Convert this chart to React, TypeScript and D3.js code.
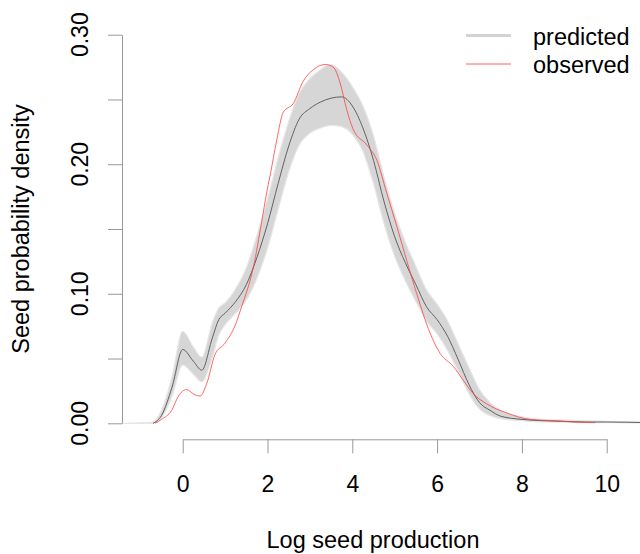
import React, { useEffect, useRef } from 'react'
import * as d3 from 'd3'

// log seed production grid for the predicted curves
const predX = [-1.4, -0.7, -0.5, -0.25, 0, 0.25, 0.45, 0.7, 0.85, 1.0, 1.25, 1.5, 1.75, 2.0, 2.25, 2.5, 2.75, 3.0, 3.25, 3.5, 3.75, 4.0, 4.25, 4.5, 4.75, 5.0, 5.25, 5.5, 5.75, 6.0, 6.25, 6.5, 6.75, 7.0, 7.25, 7.5, 8.0, 8.5, 9.0, 9.5, 10.0, 10.5, 11.0]
// mean of the predicted densities (dark line), starts at -0.7
const meanX = predX.slice(1)
const predMean = [0, 0.006, 0.028, 0.057, 0.048, 0.041, 0.066, 0.080, 0.085, 0.094, 0.107, 0.128, 0.154, 0.185, 0.214, 0.235, 0.243, 0.248, 0.251, 0.252, 0.245, 0.228, 0.203, 0.171, 0.144, 0.124, 0.107, 0.090, 0.080, 0.067, 0.049, 0.030, 0.016, 0.010, 0.0055, 0.003, 0.002, 0.0015, 0.001, 0.001, 0.0008, 0.0005]
// lower / upper envelope of the predicted bundle
const predLow = [0, 0, 0.004, 0.021, 0.045, 0.038, 0.032, 0.051, 0.068, 0.076, 0.085, 0.095, 0.112, 0.135, 0.165, 0.194, 0.215, 0.224, 0.228, 0.230, 0.229, 0.223, 0.210, 0.185, 0.154, 0.129, 0.110, 0.094, 0.079, 0.069, 0.056, 0.040, 0.023, 0.011, 0.006, 0.0035, 0.002, 0.001, 0.0008, 0.0005, 0.0005, 0.0004, 0.0002]
const predHigh = [0, 0.001, 0.010, 0.036, 0.071, 0.059, 0.051, 0.078, 0.089, 0.093, 0.104, 0.120, 0.145, 0.173, 0.205, 0.233, 0.255, 0.266, 0.273, 0.277, 0.271, 0.260, 0.245, 0.222, 0.190, 0.162, 0.140, 0.121, 0.103, 0.092, 0.079, 0.061, 0.043, 0.026, 0.016, 0.010, 0.005, 0.003, 0.0025, 0.002, 0.0015, 0.0012, 0.001]

// observed density (red)
const obsX = [-0.65, -0.5, -0.26, -0.1, 0.09, 0.29, 0.41, 0.57, 0.76, 1.0, 1.23, 1.39, 1.67, 1.86, 1.98, 2.06, 2.22, 2.37, 2.61, 2.84, 3.08, 3.36, 3.55, 3.71, 3.87, 4.02, 4.34, 4.58, 4.81, 5.05, 5.28, 5.52, 5.83, 6.07, 6.38, 6.62, 6.85, 7.17, 7.64, 8.19, 8.74, 9.2, 9.73]
const obsY = [0, 0.003, 0.010, 0.021, 0.026, 0.022, 0.021, 0.031, 0.053, 0.062, 0.075, 0.090, 0.121, 0.155, 0.178, 0.191, 0.219, 0.240, 0.247, 0.264, 0.273, 0.277, 0.275, 0.263, 0.242, 0.227, 0.215, 0.203, 0.178, 0.152, 0.126, 0.100, 0.070, 0.054, 0.044, 0.033, 0.023, 0.015, 0.008, 0.003, 0.002, 0.001, 0.0005]

const xTicks = [0, 2, 4, 6, 8, 10]
const yTicks = [0, 0.05, 0.1, 0.15, 0.2, 0.25, 0.3]
const yLabels = [0, 0.1, 0.2, 0.3]
const legendNames = ['predicted', 'observed']

const FONT = 'Liberation Sans, Arial, Helvetica, sans-serif'

export default function App() {
  const ref = useRef<SVGSVGElement>(null)

  useEffect(() => {
    const svg = d3.select(ref.current)
    svg.selectAll('*').remove()

    var xScale = d3.scaleLinear().domain([0, 10]).range([182.7, 606.7])
    var yScale = d3.scaleLinear().domain([0, 0.3]).range([423.3, 34.7])

    // band of predicted curves
    var band = d3.area<number>()
      .x((d, i) => xScale(predX[i]))
      .y0((d, i) => yScale(predLow[i]))
      .y1((d, i) => yScale(predHigh[i]))
      .curve(d3.curveMonotoneX)
    svg.append('path')
      .datum(predX)
      .attr('fill', '#d6d6d6')
      .attr('stroke', '#e6e6e6')
      .attr('stroke-width', 1.2)
      .attr('d', band)

    var line = d3.line<[number, number]>()
      .x(d => xScale(d[0]))
      .y(d => yScale(d[1]))
      .curve(d3.curveMonotoneX)

    // mean predicted
    svg.append('path')
      .datum(meanX.map((v, i) => [v, predMean[i]] as [number, number]))
      .attr('fill', 'none')
      .attr('stroke', '#555')
      .attr('stroke-width', 0.9)
      .attr('d', line)

    // observed
    svg.append('path')
      .datum(obsX.map((v, i) => [v, obsY[i]] as [number, number]))
      .attr('fill', 'none')
      .attr('stroke', '#ff4040')
      .attr('stroke-width', 0.8)
      .attr('d', line)

    // x axis
    var gx = svg.append('g')
      .attr('transform', 'translate(0,439.3)')
      .call(d3.axisBottom(xScale).tickValues(xTicks).tickSize(14).tickSizeOuter(0).tickPadding(22).tickFormat(d3.format('d')))
    gx.select('.domain').attr('stroke', '#999')
    gx.selectAll('line').attr('stroke', '#999')
    gx.selectAll('text').attr('font-size', 23).attr('font-family', FONT).attr('fill', '#000')

    // y axis
    var gy = svg.append('g')
      .attr('transform', 'translate(122,0)')
      .call(d3.axisLeft(yScale).tickValues(yTicks).tickSize(14).tickSizeOuter(0).tickFormat(() => ''))
    gy.select('.domain').attr('stroke', '#999')
    gy.selectAll('line').attr('stroke', '#999')

    svg.selectAll('.ylab')
      .data(yLabels)
      .enter().append('text')
      .attr('transform', d => 'translate(88,' + yScale(d) + ') rotate(-90)')
      .attr('text-anchor', 'middle')
      .attr('font-size', 23)
      .attr('font-family', FONT)
      .text(d => d3.format('.2f')(d))

    // axis titles
    svg.append('text')
      .attr('x', 373)
      .attr('y', 548.3)
      .attr('text-anchor', 'middle')
      .attr('font-size', 23.5)
      .attr('font-family', FONT)
      .text('Log seed production')

    svg.append('text')
      .attr('transform', 'translate(29,229) rotate(-90)')
      .attr('text-anchor', 'middle')
      .attr('font-size', 23.5)
      .attr('font-family', FONT)
      .text('Seed probability density')

    // legend
    var legendCol = ['#d3d3d3', '#ff6060']
    var legendW = [3, 1]
    var legendLineY = [35.5, 64]
    var legendTextY = [45, 73.3]
    legendNames.forEach((name, i) => {
      svg.append('line')
        .attr('x1', 466).attr('x2', 511)
        .attr('y1', legendLineY[i]).attr('y2', legendLineY[i])
        .attr('stroke', legendCol[i])
        .attr('stroke-width', legendW[i])
      svg.append('text')
        .attr('x', 533)
        .attr('y', legendTextY[i])
        .attr('font-size', 23.5)
        .attr('font-family', FONT)
        .text(name)
    })
  }, [])

  return (
    <svg ref={ref} width={640} height={554} style={{ position: 'absolute', left: 0, top: 0, background: '#fff' }} />
  )
}
